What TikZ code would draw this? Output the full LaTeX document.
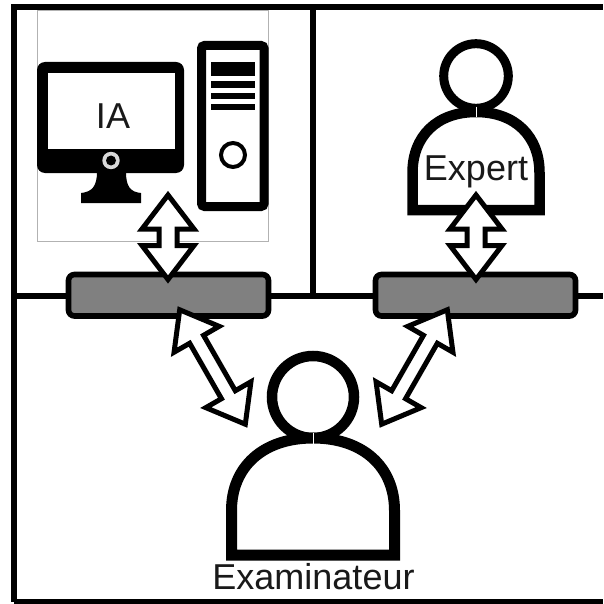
\documentclass[tikz,border=0pt]{standalone}
\usepackage{fontspec}
\setmainfont{Liberation Sans}
\usetikzlibrary{calc}
\tikzset{
  frameline/.style={line width=5.6pt,black},
  barbox/.style={draw=black,line width=5.6pt,fill=gray50,rounded corners=6pt,minimum width=200pt,minimum height=41.5pt,inner sep=0pt},
  head/.style={draw=black,fill=white},
  label/.style={font=\fontsize{36}{36}\selectfont,inner sep=0pt,anchor=base,text=black!90},
  blockarrow/.style={draw=black,fill=white,line width=5pt,miter limit=10,line join=miter},
  seam/.style={draw=white,line width=0.8pt}
}
\definecolor{gray50}{HTML}{808080}
\newcommand{\blockarr}[3]{%
  \draw[blockarrow] (#1)
    -- ($(#1)!34pt!(#2)!26pt!90:(#2)$)
    -- ($(#1)!34pt!(#2)!#3!90:(#2)$)
    -- ($(#2)!34pt!(#1)!-#3!90:(#1)$)
    -- ($(#2)!34pt!(#1)!-26pt!90:(#1)$)
    -- (#2)
    -- ($(#2)!34pt!(#1)!26pt!90:(#1)$)
    -- ($(#2)!34pt!(#1)!#3!90:(#1)$)
    -- ($(#1)!34pt!(#2)!-#3!90:(#2)$)
    -- ($(#1)!34pt!(#2)!-26pt!90:(#2)$)
    -- cycle;}
% #1 centre x, #2 head y, #3 head r, #4 head lw, #5 half body width, #6 body top y, #7 bottom y, #8 body lw (plain number)
\newcommand{\person}[8]{%
  \draw[head,line width=#4] (#1,#2) circle[radius=#3];
  \draw[draw=black,fill=white,line width=#8pt,miter limit=10]
    (#1,#6) .. controls ({#1+0.62*#5},#6) and ({#1+#5},{#6+0.25*(#7-#6)}) ..
    ({#1+#5},{#6+0.62*(#7-#6)}) -- ({#1+#5},#7) -- ({#1-#5},#7) -- ({#1-#5},{#6+0.62*(#7-#6)})
    .. controls ({#1-#5},{#6+0.25*(#7-#6)}) and ({#1-0.62*#5},#6) .. (#1,#6) -- cycle;
  \draw[seam] (#1,{#6-0.5*#8}) -- (#1,{#6+0.5*#8});}
\begin{document}
\begin{tikzpicture}[x=1pt,y=-1pt]
\useasboundingbox (0,0) rectangle (603,604);
\fill[white] (0,0) rectangle (603,604);
% frame
\draw[frameline,line width=6.5pt] (14,602) -- (14,7) -- (603,7);
\draw[frameline] (14,602) -- (603,602);
\draw[frameline] (14,296) -- (603,296);
\draw[frameline] (313,7) -- (313,296);
% image outline
\draw[draw=black!30,line width=0.7pt,fill=white] (37,10) rectangle (268.5,241);
% monitor
\fill[black,rounded corners=8pt] (37,62) rectangle (184,173);
\fill[white] (48,73) rectangle (175,149);
\fill[black] (97,172) .. controls (97,186) and (92,192) .. (81,193) -- (81,203) -- (141,203) -- (141,193)
  .. controls (130,192) and (126,186) .. (126,172) -- cycle;
\fill[white!85!black] (111,160.5) circle[radius=8.7];
\fill[black] (111,160.5) circle[radius=5];
\node[label] (ia) at (113,129) {IA};
% tower
\draw[black,line width=9pt,fill=white,rounded corners=3pt] (201.5,45.5) rectangle (264,206.5);
\fill[black] (211,62) rectangle (255,76.5);
\fill[black] (211,81.5) rectangle (255,88);
\fill[black] (211,93) rectangle (255,99.5);
\fill[black] (211,104.5) rectangle (255,110.5);
\draw[black,line width=4pt] (233,155) circle[radius=12];
% persons
\person{476}{76}{32.3}{9pt}{63.5}{112}{210}{10.5}
\node[label] (expert) at (476,180) {Expert};
\person{313}{397}{41}{10.5pt}{81.5}{438}{555}{11}
\node[label] (exam) at (313.5,589) {Examinateur};
% bars
\node[barbox] (barL) at (168.5,295.25) {};
\node[barbox] (barR) at (475.5,295.25) {};
% arrows
\coordinate (a1) at (168,195);   \coordinate (a2) at (168,279.5);
\coordinate (b1) at (476,195);   \coordinate (b2) at (476,279.5);
\coordinate (c1) at (179.7,309.8); \coordinate (c2) at (245.3,424.2);
\coordinate (d1) at (447.3,309.8); \coordinate (d2) at (381.7,424.2);
\blockarr{a1}{a2}{9pt}
\blockarr{b1}{b2}{9pt}
\blockarr{c1}{c2}{8pt}
\blockarr{d1}{d2}{8pt}
\end{tikzpicture}
\end{document}
